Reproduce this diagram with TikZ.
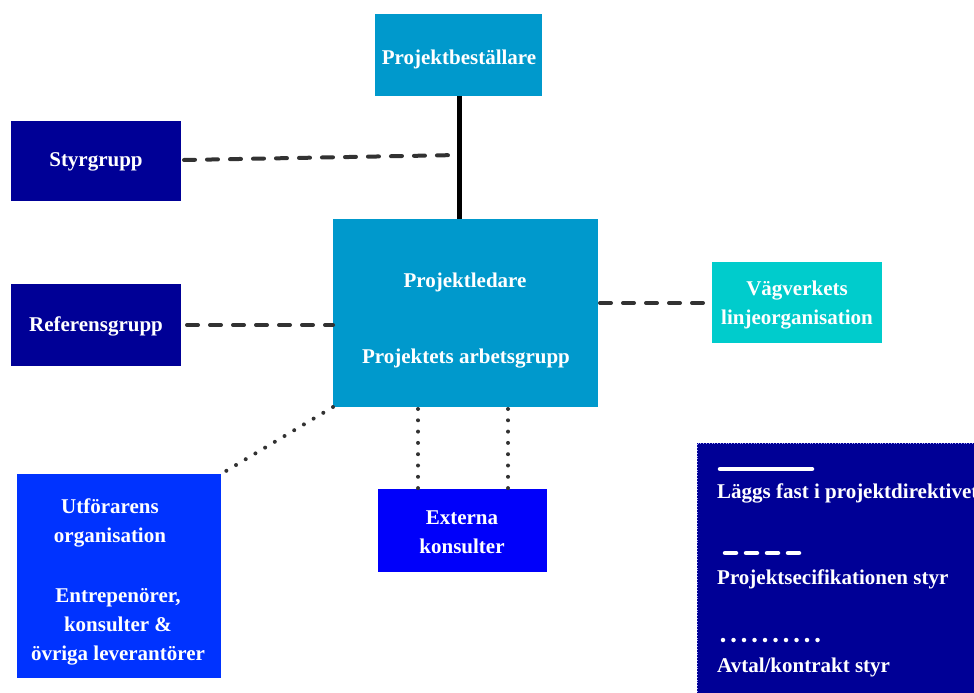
\documentclass[tikz,border=0pt]{standalone}
\usepackage{fontspec}
\setmainfont{Liberation Serif}
\begin{document}
\definecolor{cyanbox}{RGB}{0,153,204}
\definecolor{navybox}{RGB}{0,0,150}
\definecolor{tealbox}{RGB}{0,204,204}
\definecolor{bluebox}{RGB}{0,51,255}
\definecolor{purebox}{RGB}{0,0,250}
\definecolor{legendbox}{RGB}{0,0,150}
\definecolor{linkgray}{RGB}{50,50,50}
\begin{tikzpicture}[x=1pt,y=-1pt,
  box/.style={draw=none, inner sep=0pt, text=white, align=center,
    font=\fontsize{21}{29}\selectfont\bfseries},
  solidlink/.style={line width=5pt, black},
  dashlink/.style={line width=4pt, linkgray, line cap=round, dash pattern=on 11pt off 12pt},
  dotlink/.style={line width=4pt, linkgray, line cap=round, dash pattern=on 0pt off 11.3pt},
  legtext/.style={text=white, anchor=west, inner sep=0pt,
    font=\fontsize{21}{24}\selectfont\bfseries}]
\useasboundingbox (0,0) rectangle (974,693);

% boxes
\fill[cyanbox] (375,14) rectangle (542,96);
\node[box] (best) at (459,59) {Projektbeställare};
\fill[navybox] (11,121) rectangle (181,201);
\node[box] (styr) at (96,162) {Styrgrupp};
\fill[navybox] (11,284) rectangle (181,366);
\node[box] (ref) at (96,326) {Referensgrupp};
\fill[cyanbox] (333,219) rectangle (598,407);
\node[box] (pl) at (465,282) {Projektledare};
\node[box] (pa) at (466,359) {Projektets arbetsgrupp};
\fill[tealbox] (712,262) rectangle (882,343);
\node[box] (vv) at (797,305) {Vägverkets\\linjeorganisation};
\fill[bluebox] (17,474) rectangle (221,678);
\node[box] (utf) at (110,523) {Utförarens\\organisation};
\node[box] (entr) at (118,626.5) {Entrepenörer,\\konsulter \&\\övriga leverantörer};
\fill[purebox] (378,489) rectangle (547,572);
\node[box] (ext) at (462,532) {Externa\\konsulter};

% named anchor points
\coordinate (bestB) at (459,96);
\coordinate (plT) at (459,219);
\coordinate (join) at (459,155);
\coordinate (styrR) at (184,160);
\coordinate (refR) at (187,325);
\coordinate (plL) at (333,325);
\coordinate (plR) at (600,303);
\coordinate (vvL) at (712,303);
\coordinate (plBL) at (333,407);
\coordinate (utfTR) at (221,474);
\coordinate (plB1) at (418,409);
\coordinate (ext1) at (418,489);
\coordinate (plB2) at (508,409);
\coordinate (ext2) at (508,489);

% connectors
\draw[solidlink] (bestB) -- (plT);
\draw[dashlink] (styrR) -- (join);
\draw[dashlink] (refR) -- (plL);
\draw[dashlink] (plR) -- (vvL);
\draw[dotlink] (plBL) -- (utfTR);
\draw[dotlink] (plB1) -- (ext1);
\draw[dotlink] (plB2) -- (ext2);

% legend
\fill[legendbox] (697,443) rectangle (990,700);
\draw[blue!35, line width=0.8pt, dotted] (697,700) -- (697,443) -- (990,443);
\coordinate (l1a) at (720,469);
\coordinate (l1b) at (812,469);
\draw[white, line width=4.5pt, line cap=round] (l1a) -- (l1b);
\node[legtext] (lt1) at (717,493) {Läggs fast i projektdirektivet};
\coordinate (l2a) at (725,553);
\coordinate (l2b) at (806,553);
\draw[white, line width=4.5pt, line cap=round, dash pattern=on 11pt off 10pt] (l2a) -- (l2b);
\node[legtext] (lt2) at (717,579) {Projektsecifikationen styr};
\coordinate (l3a) at (723,640);
\coordinate (l3b) at (818,640);
\draw[white, line width=4.5pt, line cap=round, dash pattern=on 0pt off 10.5pt] (l3a) -- (l3b);
\node[legtext] (lt3) at (717,667) {Avtal/kontrakt styr};
\end{tikzpicture}
\end{document}
